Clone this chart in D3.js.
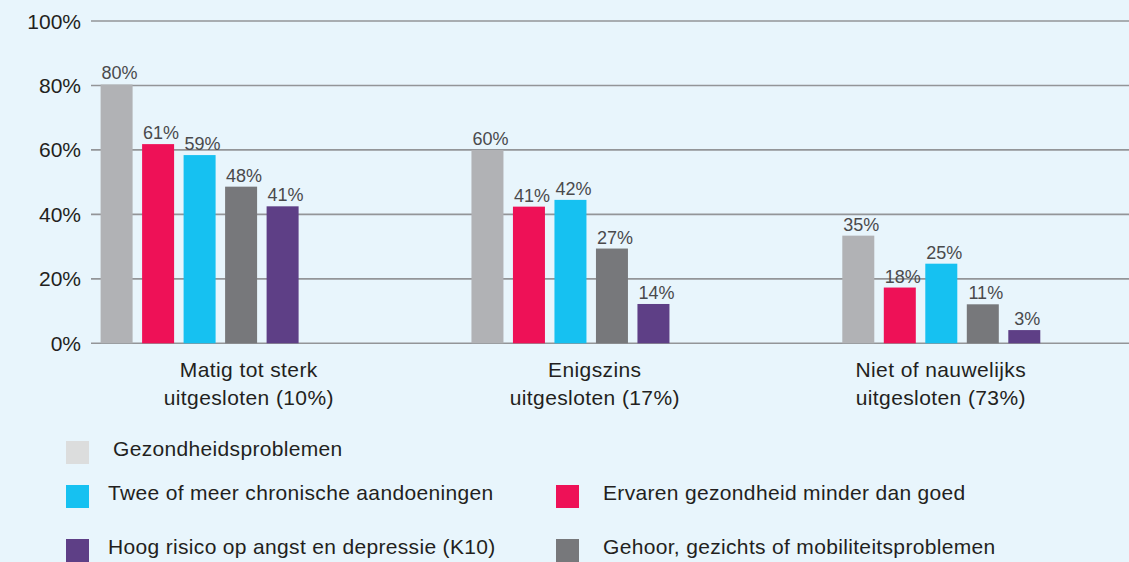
<!DOCTYPE html>
<html><head><meta charset="utf-8">
<script src="https://cdn.jsdelivr.net/npm/d3@7"></script>
<style>
html,body{margin:0;padding:0;background:#e8f5fc;}
svg{display:block;font-family:"Liberation Sans",Arial,Helvetica,sans-serif;}
</style></head>
<body><svg id="chart" width="1129" height="562"></svg>
<script>
// ---- data ----
const groups = ["Matig tot sterk|uitgesloten (10%)", "Enigszins|uitgesloten (17%)", "Niet of nauwelijks|uitgesloten (73%)"];
const series = ["Gezondheidsproblemen", "Ervaren gezondheid minder dan goed", "Twee of meer chronische aandoeningen", "Gehoor, gezichts of mobiliteitsproblemen", "Hoog risico op angst en depressie (K10)"];
const colors = ["#b1b2b5", "#ee1157", "#16c1f1", "#77787b", "#5e3f86"];
const legendColors = ["#dcdddd", "#ee1157", "#16c1f1", "#77787b", "#5e3f86"];
// bar heights as drawn (%)
const barValues = [
  [80.3, 61.8, 58.4, 48.6, 42.5],
  [60.0, 42.4, 44.5, 29.4, 12.2],
  [33.4, 17.3, 24.7, 12.1, 4.1]
];
// printed labels (%)
const labelValues = [
  [80, 61, 59, 48, 41],
  [60, 41, 42, 27, 14],
  [35, 18, 25, 11, 3]
];
const yTicks = [0, 20, 40, 60, 80, 100];
// legend rows: series index per row, by column
const legendRows = [[0], [2, 1], [4, 3]];

// ---- chart ----
const svg = d3.select("#chart");
const y = d3.scaleLinear().domain([0, 100]).range([343.3, 21]);

// grid lines
svg.append("g").selectAll("line").data(yTicks).join("line")
  .attr("x1", 91).attr("x2", 1129)
  .attr("y1", d => y(d)).attr("y2", d => y(d))
  .attr("stroke", "#939598").attr("stroke-width", 1.6);

// y tick labels
svg.append("g").selectAll("text").data(yTicks).join("text")
  .attr("x", 81).attr("y", d => y(d)).attr("dy", "0.36em")
  .attr("text-anchor", "end").attr("font-size", 21).attr("fill", "#231f20")
  .text(d => d + "%");

// bars
const x0 = d3.scaleBand().domain(groups).range([100.6, 100.6 + 3 * 370.85]).paddingInner(0).paddingOuter(0);
const x1 = d3.scaleBand().domain(d3.range(series.length)).range([0, 198]).paddingInner(0.229).paddingOuter(0);
const xLab = d3.scaleBand().domain(groups).range([75.8, 75.8 + 3 * 346]);

const gGroups = svg.append("g").selectAll("g").data(groups).join("g")
  .attr("transform", d => `translate(${x0(d)},0)`);

gGroups.selectAll("rect").data((d, gi) => barValues[gi].map((v, si) => ({v, si})))
  .join("rect")
  .attr("x", d => x1(d.si)).attr("width", x1.bandwidth())
  .attr("y", d => y(d.v)).attr("height", d => y(0) - y(d.v))
  .attr("fill", d => colors[d.si]);

gGroups.selectAll("text").data((d, gi) => barValues[gi].map((v, si) => ({v, si, lab: labelValues[gi][si]})))
  .join("text")
  .attr("x", d => x1(d.si) + x1.bandwidth() / 2 + 3)
  .attr("y", d => y(d.v) - 5)
  .attr("text-anchor", "middle").attr("font-size", 18).attr("fill", "#4a4a4c")
  .text(d => d.lab + "%");

// category labels
const cat = svg.append("g").selectAll("text").data(groups).join("text")
  .attr("text-anchor", "middle").attr("font-size", 21).attr("fill", "#231f20")
  .attr("letter-spacing", 0.4);
cat.selectAll("tspan").data(d => d.split("|").map(t => ({t, g: d}))).join("tspan")
  .attr("x", d => xLab(d.g) + xLab.bandwidth() / 2)
  .attr("y", (d, i) => 377.3 + i * 27.7)
  .text(d => d.t);

// legend
const rowY = [441, 485, 539];
const colX = [66, 556];
legendRows.forEach((row, ri) => {
  row.forEach((si, ci) => {
    const g = svg.append("g").attr("transform", `translate(${colX[ci]},${rowY[ri]})`);
    g.append("rect").attr("width", 23).attr("height", 23).attr("fill", legendColors[si]);
    g.append("text").attr("x", ri === 0 ? 47 : 42 + (ci === 1 ? 5 : 0)).attr("y", 15)
      .attr("font-size", 21).attr("fill", "#231f20").attr("letter-spacing", 0.33)
      .text(series[si]);
  });
});
</script></body></html>
